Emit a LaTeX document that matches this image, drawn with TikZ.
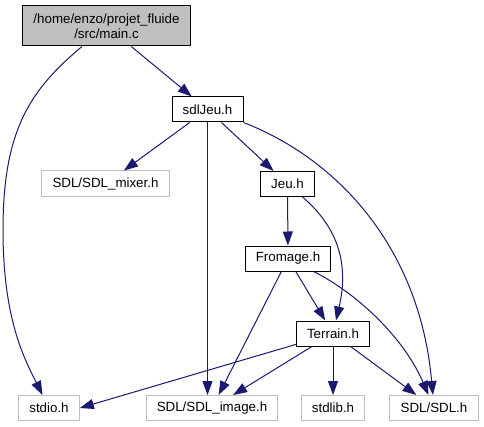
\documentclass[tikz,border=0pt]{standalone}
\usepackage{fontspec}
\setmainfont{Liberation Sans}
\usetikzlibrary{arrows.meta}
\definecolor{edgeblue}{HTML}{191970}
\definecolor{boxgray}{HTML}{BFBFBF}
\begin{document}
\begin{tikzpicture}[x = 0.75pt, y = -0.75pt,
	file/.style = {draw = black, fill = white, line width = 0.75pt, inner xsep = 8pt, minimum height = 18.75pt, font = \fontsize{10}{11}\selectfont},
	sysfile/.style = {file, draw = boxgray},
	dep/.style = {draw = edgeblue, line width = 0.75pt, -{Triangle[length = 10.5pt, width = 7.5pt]}}]
	\useasboundingbox (0,0) rectangle (484,427);
	\node [file, fill = boxgray, align = center, minimum width = 123.75pt, minimum height = 30pt] (main) at (106.5,26) {/home/enzo/projet\_fluide\\/src/main.c};
	\node [file] (sdlJeu) at (207.5,109.5) {sdlJeu.h};
	\node [sysfile, minimum height = 19.5pt] (mixer) at (105.5,184) {SDL/SDL\_mixer.h};
	\node [file] (Jeu) at (287.5,184) {Jeu.h};
	\node [file] (Fromage) at (288,258.5) {Fromage.h};
	\node [file] (Terrain) at (333,333.5) {Terrain.h};
	\node [sysfile] (stdio) at (49,408) {stdio.h};
	\node [sysfile] (image) at (212,408) {SDL/SDL\_image.h};
	\node [sysfile] (stdlib) at (333,408) {stdlib.h};
	\node [sysfile] (sdl) at (434,408) {SDL/SDL.h};
	% main.c
	\draw [dep] (main) -- (sdlJeu);
	\draw [dep] (main) .. controls (30,90) and (3,130) .. (3,230) .. controls (3,320) and (25,360) .. (stdio);
	% sdlJeu.h
	\draw [dep] (sdlJeu) -- (mixer);
	\draw [dep] (sdlJeu) -- (sdlJeu |- image.north);
	\draw [dep] (sdlJeu) -- (Jeu);
	\draw [dep] (sdlJeu.south east) .. controls (340,160) and (420,250) .. (sdl);
	% Jeu.h
	\draw [dep] (Jeu) -- (Fromage);
	\draw [dep] (Jeu) .. controls (335,225) and (350,260) .. (Terrain);
	% Fromage.h
	\draw [dep] (Fromage) -- (Terrain);
	\draw [dep] (Fromage) -- (image);
	\draw [dep] (Fromage) .. controls (360,295) and (405,340) .. (sdl);
	% Terrain.h
	\draw [dep] (Terrain) -- (stdio.east);
	\draw [dep] (Terrain) -- (image);
	\draw [dep] (Terrain) -- (stdlib);
	\draw [dep] (Terrain) -- (sdl);
\end{tikzpicture}
\end{document}
